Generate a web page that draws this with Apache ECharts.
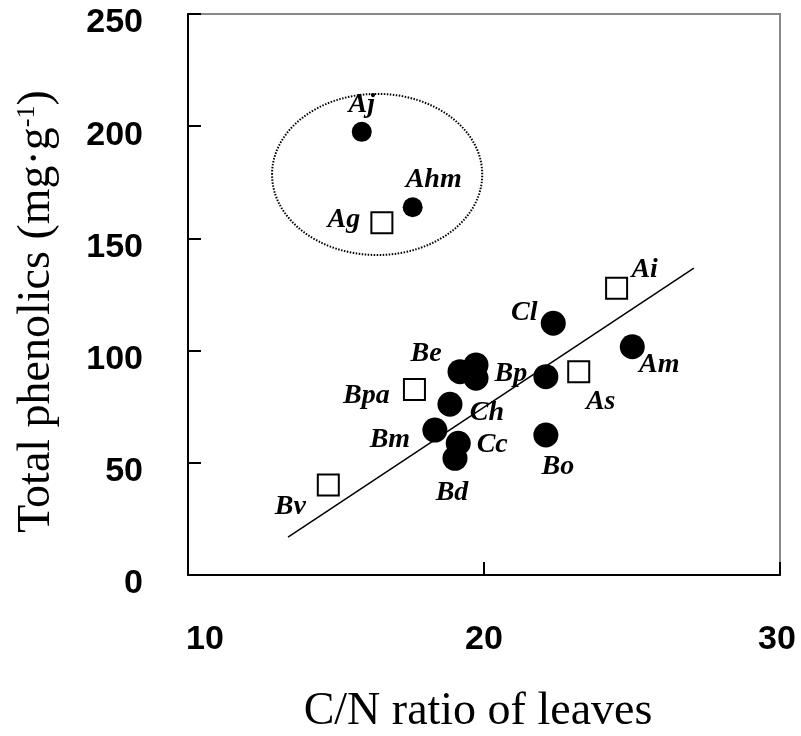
<!DOCTYPE html>
<html>
<head>
<meta charset="utf-8">
<script src="https://cdn.jsdelivr.net/npm/echarts@6/dist/echarts.min.js"></script>
<style>
html,body{margin:0;padding:0;background:#fff;}
#main{width:801px;height:736px;}
</style>
</head>
<body>
<div id="main"></div>
<script>
// circles (filled) - upper group
var circleNamesA=['Aj','Ahm'];
var circleXA=[15.87,17.59];
var circleYA=[197.5,163.9];
// circles (filled) - lower group
var circleNames=['Cl','Am','Be','','','Bp','Ch','Bm','Cc','Bd','Bo'];
var circleX=[22.34,25.01,19.19,19.73,19.73,22.09,18.85,18.34,19.13,19.02,22.09];
var circleY=[112.2,101.7,90.6,93.6,87.7,88.4,76.1,64.6,58.7,52.0,62.4];
// open squares
var squareNames=['Ag','Ai','As','Bpa','Bv'];
var squareX=[16.55,24.48,23.20,17.65,14.74];
var squareY=[157.0,127.8,90.6,82.7,40.1];
// regression line end points
var lineX=[13.38,27.09];
var lineY=[16.9,136.8];
// dotted ellipse: centre x, centre y, radius x, radius y
var ellipse=[16.39,178.5,3.55,35.9];
var xTicks=[10,20,30];
var yTicks=[0,50,100,150,200,250];

// label offsets (px) from the marker centre
var labelOff={
    Aj:[0,-27],Ahm:[21,-27],Ag:[-38,-3],Ai:[28,-18],Cl:[-29,-10],Am:[27,18],
    Be:[-34,-18],Bp:[-35,-3],As:[22,30],Bpa:[-48,6],Ch:[37,9],Bm:[-45,10],
    Cc:[34,1],Bd:[-3,34],Bo:[12,32],Bv:[-38,22]
};

function makeData(names,xs,ys){
    var out=[];
    for(var i=0;i<names.length;i++){
        var off=labelOff[names[i]]||[0,0];
        out.push({
            name:names[i],
            value:[xs[i],ys[i]],
            label:{offset:off}
        });
    }
    return out;
}

var serif='"Liberation Serif","Times New Roman",serif';
var sans='"Liberation Sans",Arial,sans-serif';

var labelStyle={
    show:true,
    position:'inside',
    formatter:'{b}',
    color:'#000',
    fontFamily:serif,
    fontStyle:'italic',
    fontWeight:'bold',
    fontSize:28
};

var chart=echarts.init(document.getElementById('main'));
var option={
    animation:false,
    grid:{
        left:188,right:21,top:14,bottom:161,
        outerBoundsMode:'none',
        containLabel:false,
        show:true,
        borderColor:'#888',
        borderWidth:2
    },
    xAxis:{
        type:'value',
        min:10,max:30,interval:10,
        name:'C/N ratio of leaves',
        nameLocation:'middle',
        nameGap:114,
        nameTextStyle:{
            fontFamily:serif,
            fontSize:46,
            color:'#000',
            padding:[0,12,0,0]
        },
        axisLine:{show:true,lineStyle:{color:'#000',width:2}},
        axisTick:{show:true,inside:true,length:13,lineStyle:{color:'#000',width:2}},
        splitLine:{show:false},
        axisLabel:{
            margin:48,
            color:'#000',
            formatter:function(v){
                if(v==10){return '{l|10}'}
                if(v==30){return '{r|30}'}
                return '{m|'+v+'}'
            },
            rich:{
                l:{fontFamily:sans,fontWeight:'bold',fontSize:34,padding:[0,0,0,34]},
                m:{fontFamily:sans,fontWeight:'bold',fontSize:34},
                r:{fontFamily:sans,fontWeight:'bold',fontSize:34,padding:[0,6,0,0]}
            }
        }
    },
    yAxis:{
        type:'value',
        min:0,max:250,interval:50,
        name:'Total phenolics (mg·g{sup|-1})',
        nameLocation:'middle',
        nameGap:128,
        nameTextStyle:{
            fontFamily:serif,
            fontSize:46,
            color:'#000',
            padding:[0,34,0,0],
            rich:{
                sup:{fontFamily:serif,fontSize:26,color:'#000',verticalAlign:'top',padding:[0,0,20,0]}
            }
        },
        axisLine:{show:true,lineStyle:{color:'#000',width:2}},
        axisTick:{show:true,inside:true,length:13,lineStyle:{color:'#000',width:2}},
        splitLine:{show:false},
        axisLabel:{
            margin:45,
            color:'#000',
            formatter:function(v){
                return '{a|'+v+'}'
            },
            rich:{
                a:{fontFamily:sans,fontWeight:'bold',fontSize:34,padding:[18,0,0,0]}
            }
        }
    },
    series:[
        {
            type:'custom',
            silent:true,
            data:[ellipse],
            renderItem:function(params,api){
                var c=api.coord([api.value(0),api.value(1)]);
                var e=api.coord([api.value(0)+api.value(2),api.value(1)+api.value(3)]);
                return {
                    type:'ellipse',
                    shape:{cx:c[0],cy:c[1],rx:e[0]-c[0],ry:c[1]-e[1]},
                    style:{fill:'none',stroke:'#000',lineWidth:2,lineDash:[1.5,1.5]}
                };
            }
        },
        {
            type:'line',
            data:[[lineX[0],lineY[0]],[lineX[1],lineY[1]]],
            symbol:'none',
            silent:true,
            lineStyle:{color:'#000',width:1.5}
        },
        {
            type:'scatter',
            symbol:'circle',
            symbolSize:20,
            itemStyle:{color:'#000',opacity:1},
            label:labelStyle,
            data:makeData(circleNamesA,circleXA,circleYA)
        },
        {
            type:'scatter',
            symbol:'circle',
            symbolSize:25,
            itemStyle:{color:'#000',opacity:1},
            label:labelStyle,
            data:makeData(circleNames,circleX,circleY)
        },
        {
            type:'scatter',
            symbol:'rect',
            symbolSize:21,
            itemStyle:{color:'#fff',borderColor:'#000',borderWidth:2,opacity:1},
            label:labelStyle,
            data:makeData(squareNames,squareX,squareY)
        }
    ]
};
chart.setOption(option);
</script>
</body>
</html>
